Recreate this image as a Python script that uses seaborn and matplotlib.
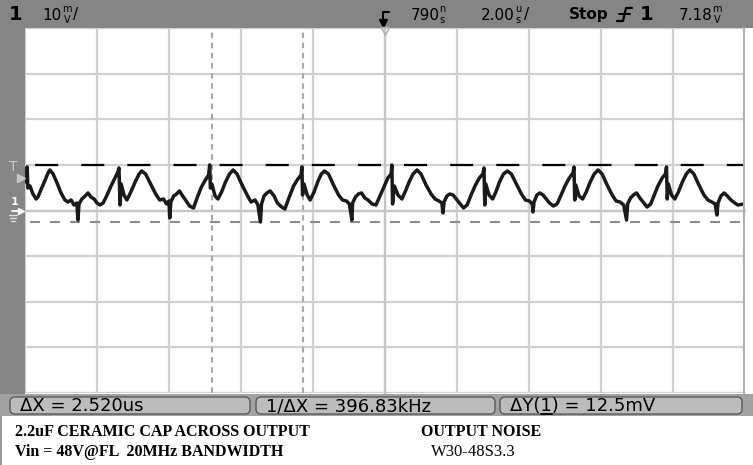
import pandas as pd
import seaborn as sns
import matplotlib.pyplot as plt
from matplotlib.patches import Rectangle, FancyBboxPatch
from matplotlib.ticker import MultipleLocator

# trace: time in us from the left edge, channel 1 in mV
t_us = [0.00, 0.03, 0.06, 0.08, 0.14, 0.22, 0.31, 0.36, 0.44, 0.56, 0.64, 0.69,
        0.78, 0.89, 1.00, 1.11, 1.19, 1.28, 1.36, 1.44, 1.47, 1.50, 1.58, 1.67,
        1.75, 1.83, 1.92, 2.00, 2.08, 2.17, 2.28, 2.39, 2.50, 2.58, 2.61, 2.64,
        2.67, 2.75, 2.83, 2.94, 3.06, 3.17, 3.24,
        3.35, 3.49, 3.63, 3.74, 3.85, 3.93, 4.00, 4.02, 4.05, 4.13, 4.21, 4.29,
        4.38, 4.46, 4.57, 4.68, 4.79, 4.90, 5.01, 5.10, 5.13, 5.15, 5.19, 5.28,
        5.36, 5.46, 5.57, 5.68, 5.78,
        5.89, 6.03, 6.17, 6.28, 6.39, 6.47, 6.54, 6.57, 6.64, 6.72, 6.81, 6.92,
        7.01, 7.13, 7.22, 7.33, 7.46, 7.58, 7.67, 7.69, 7.71, 7.75, 7.84, 7.92,
        8.03, 8.13, 8.23, 8.32,
        8.43, 8.57, 8.71, 8.82, 8.93, 9.01, 9.08, 9.10, 9.18, 9.26, 9.35, 9.44,
        9.53, 9.64, 9.75, 9.86, 9.97, 10.08, 10.17, 10.19, 10.21, 10.26, 10.36,
        10.47, 10.57, 10.67, 10.78, 10.89,
        11.00, 11.14, 11.28, 11.39, 11.50, 11.58, 11.61, 11.64, 11.72, 11.80,
        11.89, 11.98, 12.07, 12.18, 12.28, 12.38, 12.50, 12.62, 12.72, 12.75,
        12.77, 12.80, 12.89, 12.99, 13.08, 13.18, 13.29, 13.40,
        13.51, 13.65, 13.79, 13.90, 14.01, 14.09, 14.11, 14.14, 14.22, 14.30,
        14.39, 14.48, 14.57, 14.68, 14.78, 14.88, 15.00, 15.12, 15.22, 15.25,
        15.27, 15.30, 15.39, 15.49, 15.59, 15.70, 15.81, 15.92,
        16.03, 16.17, 16.31, 16.42, 16.53, 16.63, 16.71, 16.74, 16.82, 16.90,
        16.99, 17.08, 17.17, 17.28, 17.38, 17.47, 17.58, 17.70, 17.79, 17.82,
        17.84, 17.87, 17.96, 18.05, 18.15, 18.26, 18.37, 18.47,
        18.58, 18.72, 18.86, 18.97, 19.08, 19.17, 19.22, 19.25, 19.33, 19.42,
        19.51, 19.61, 19.72, 19.80, 19.96]
v_mv = [6.25, 7.13, 9.54, 4.93, 5.37, 3.62, 2.52, 2.96, 4.50, 6.69, 8.22, 8.88,
        8.00, 6.03, 3.84, 2.30, 1.86, 2.30, 1.21, 1.64, -2.08, 1.43, 2.52, 3.18,
        3.84, 2.96, 2.52, 1.64, 1.21, 1.64, 3.40, 5.37, 7.13, 8.44, 9.32, 1.21,
        5.81, 3.40, 2.30, 4.06, 6.25, 8.00, 8.66,
        8.00, 5.81, 3.62, 2.30, 2.52, 1.43, 2.08, -1.64, 1.86, 3.18, 3.62, 4.28,
        3.18, 2.30, 0.99, 0.55, 2.96, 5.15, 6.69, 7.79, 10.0, 4.93, 5.81, 3.18,
        2.52, 4.06, 6.25, 8.00, 8.88,
        8.00, 5.59, 3.40, 1.86, 2.30, 1.21, -2.52, 1.43, 3.18, 3.84, 4.28, 3.18,
        1.64, 0.77, 0.33, 2.74, 5.37, 6.91, 7.79, 9.54, 3.40, 5.81, 3.40, 2.30,
        4.06, 6.25, 8.00, 8.66,
        8.00, 5.59, 3.40, 2.30, 2.08, 1.43, -2.08, 1.64, 2.96, 3.62, 3.84, 2.74,
        2.30, 1.43, 1.21, 3.18, 5.15, 7.13, 8.00, 9.98, 1.43, 5.37, 3.40,
        2.52, 4.28, 6.25, 8.00, 8.88,
        8.00, 5.59, 3.62, 2.52, 2.08, 1.64, -0.55, 1.86, 3.18, 3.62,
        3.40, 2.52, 1.64, 0.55, 1.21, 3.18, 5.37, 7.13, 8.00, 9.32,
        1.21, 5.81, 3.40, 2.52, 4.06, 6.25, 8.00, 8.66,
        8.00, 5.81, 3.62, 2.30, 2.08, 1.43, -0.33, 1.86, 3.40, 3.84,
        3.40, 2.52, 1.64, 0.99, 1.43, 3.18, 5.37, 7.13, 8.22, 9.54,
        2.30, 5.59, 3.18, 2.52, 4.06, 6.25, 8.00, 8.88,
        8.00, 5.59, 3.40, 2.08, 1.86, 1.21, -2.08, 1.43, 2.74, 3.40,
        3.84, 2.74, 1.86, 0.77, 1.43, 3.18, 5.37, 7.13, 8.00, 9.54,
        2.52, 5.81, 3.40, 2.52, 4.06, 6.25, 8.00, 8.88,
        8.00, 5.59, 3.40, 2.30, 1.86, 1.43, -0.99, 1.64, 3.18, 3.84,
        3.18, 2.30, 1.64, 1.21, 1.43]

cursor_x_us = [5.19, 7.71]
cursor_y_mv = [10.0, -2.5]
trigger_mv = 7.18

measurements = ["ΔX = 2.520us", "1/ΔX = 396.83kHz", "ΔY(1) = 12.5mV"]
notes_left = ["2.2uF CERAMIC CAP ACROSS OUTPUT", "Vin = 48V@FL  20MHz BANDWIDTH"]
notes_right = ["OUTPUT NOISE", "W30-48S3.3"]

df = pd.DataFrame({"t_us": t_us, "v_mv": v_mv})

sns.set_style("white")
plt.rcParams["font.family"] = ["DejaVu Sans"]
plt.rcParams["text.color"] = "black"
plt.rcParams["lines.scale_dashes"] = False

fig = plt.figure(figsize=(7.53, 4.65), dpi=100)
fig.patch.set_facecolor("white")

# screen: 10 x 2us divisions, 8 x 10mV divisions
ax = fig.add_axes([25 / 753, 72 / 465, 720 / 753, 365 / 465])
ax.set_zorder(2)
ax.set_facecolor("white")
ax.set_xlim(0, 20)
ax.set_ylim(-40, 40)
ax.set_xticks(range(0, 21, 2))
ax.set_yticks(range(-40, 41, 10))
ax.xaxis.set_minor_locator(MultipleLocator(0.4))
ax.yaxis.set_minor_locator(MultipleLocator(2))
ax.grid(True, which="major", color="#d0d0d0", lw=1.6)
ax.set_axisbelow(True)
for side in ["top", "right"]:
    ax.spines[side].set_visible(False)
ax.spines["left"].set_position(("data", 10))
ax.spines["bottom"].set_position(("data", 0))
for side in ["left", "bottom"]:
    ax.spines[side].set_color("#c6c6c6")
    ax.spines[side].set_linewidth(1.6)
ax.tick_params(which="both", direction="inout", length=7, width=1.3,
               color="#c0c0c0", labelbottom=False, labelleft=False)

for cx in cursor_x_us:
    ax.axvline(cx, color="#a8a8a8", lw=1.5, linestyle=(0, (4, 3.3)), zorder=2)
ax.axhline(cursor_y_mv[0], color="black", lw=1.6, linestyle=(25.9, (16.6, 16.6)), zorder=2)
ax.axhline(cursor_y_mv[1], color="#8c8c8c", lw=1.5, linestyle=(10.8, (7.2, 7.2)), zorder=2)

sns.lineplot(data=df, x="t_us", y="v_mv", sort=False, estimator=None,
             color="#1a1a1a", linewidth=2.5, ax=ax, zorder=3)
ax.set_xlabel("")
ax.set_ylabel("")

# overlay in pixel coordinates for the scope frame
fg = fig.add_axes([0, 0, 1, 1])
fg.set_zorder(3)
fg.patch.set_alpha(0)
fg.set_xlim(0, 753)
fg.set_ylim(465, 0)
fg.axis("off")

gray = "#858585"
fg.add_patch(Rectangle((0, 0), 753, 28, color=gray, lw=0))
fg.add_patch(Rectangle((0, 0), 25, 394, color=gray, lw=0))
fg.add_patch(Rectangle((0, 394), 753, 22, color="#a2a2a2", lw=0))
fg.add_patch(Rectangle((0, 416), 2, 49, color="#9a9a9a", lw=0))
fg.plot([744.5, 744.5], [28, 394], color="#b0b0b0", lw=1.5)


def stacked(x, top, bottom):
    fg.text(x, 9.5, top, fontsize=7, va="center", ha="center")
    fg.text(x, 20, bottom, fontsize=7, va="center", ha="center")


# header
fg.text(9, 15, "1", fontsize=14, fontweight="bold", va="center")
fg.text(42, 15, "10", fontsize=11, va="center")
stacked(67, "m", "V")
fg.text(73, 15, "/", fontsize=11, va="center")

fg.plot([383, 389], [12, 12], color="black", lw=1.5)
fg.plot([383, 383], [12, 22], color="black", lw=1.5)
fg.plot([383], [23], marker="v", color="black", ms=6)
fg.plot([385], [31], marker="v", mfc="none", mec="#b0b0b0", ms=6, mew=1)

fg.text(411, 15, "790", fontsize=11, va="center")
stacked(442, "n", "s")
fg.text(481, 15, "2.00", fontsize=11, va="center")
stacked(518, "u", "s")
fg.text(524, 15, "/", fontsize=11, va="center")
fg.text(569, 15, "Stop", fontsize=11, fontweight="bold", va="center")
fg.plot([617, 623, 626, 632], [21, 21, 8, 8], color="black", lw=1.6)
fg.plot([619, 630], [14, 14], color="black", lw=1.4)
fg.text(640, 15, "1", fontsize=14, fontweight="bold", va="center")
fg.text(679, 15, "7.18", fontsize=11, va="center")
stacked(717, "m", "V")

# left markers
fg.text(9, 167, "T", fontsize=10, color="#c8c8c8", va="center")
fg.plot([21], [178], marker=">", color="#c8c8c8", ms=6)
fg.text(11, 202, "1", fontsize=8, color="white", va="center", fontweight="bold")
fg.plot([12, 20], [211, 211], color="white", lw=1.3)
fg.plot([21], [211], marker=">", color="white", ms=4)
fg.plot([9, 17], [215, 215], color="#dddddd", lw=1)
fg.plot([10, 16], [218, 218], color="#dddddd", lw=1)
fg.plot([11, 15], [221, 221], color="#dddddd", lw=1)

# measurement bar
boxes = [(10, 240), (256, 239), (500, 242)]
for (x0, w), label in zip(boxes, measurements):
    fg.add_patch(FancyBboxPatch((x0, 397), w, 17, boxstyle="round,pad=0,rounding_size=5",
                                fc="#bcbcbc", ec="#505050", lw=0.9))
    fg.text(x0 + 10, 406, label, fontsize=13, va="center")

# underline the channel number in the ΔY readout
renderer = fig.canvas.get_renderer()
inv = fg.transData.inverted()
probe_a = fg.text(510, 406, "ΔY(", fontsize=13, va="center")
probe_b = fg.text(510, 406, "ΔY(1", fontsize=13, va="center")
xa = inv.transform(probe_a.get_window_extent(renderer))[1, 0]
xb = inv.transform(probe_b.get_window_extent(renderer))[1, 0]
probe_a.remove()
probe_b.remove()
fg.plot([xa + 1, xb], [414, 414], color="black", lw=1.3)

# notes under the screen
fg.text(15, 432, notes_left[0], family="Liberation Serif", fontweight="bold", fontsize=11.5, va="center")
fg.text(15, 452, notes_left[1], family="Liberation Serif", fontweight="bold", fontsize=11.5, va="center")
fg.text(421, 432, notes_right[0], family="Liberation Serif", fontweight="bold", fontsize=11.5, va="center")
fg.text(431, 452, notes_right[1], family="Liberation Serif", fontsize=12, va="center")

fig.savefig("out.png", dpi=100)
